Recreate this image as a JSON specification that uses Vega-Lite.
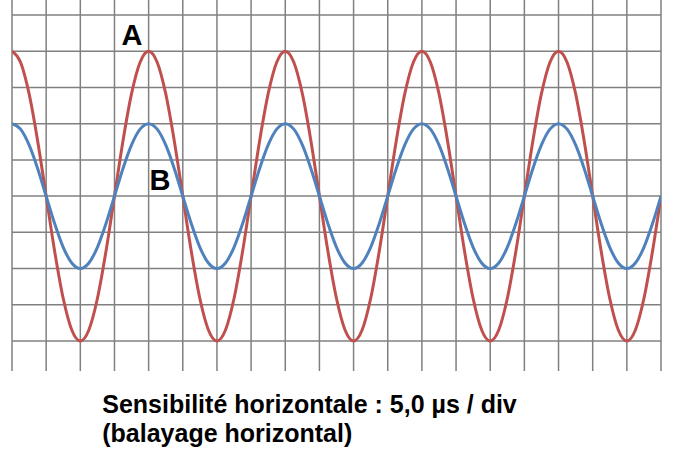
{
  "$schema": "https://vega.github.io/schema/vega-lite/v6.json",
  "width": 649,
  "height": 371,
  "autosize": {"type": "none"},
  "padding": {"left": 12, "top": 0, "right": 18, "bottom": 96},
  "background": "white",
  "config": {"view": {"stroke": null}},
  "title": {
    "text": ["Sensibilité horizontale : 5,0 µs / div", "\u2005(balayage horizontal)"],
    "orient": "bottom",
    "anchor": "start",
    "dx": 91,
    "offset": 21,
    "font": "Liberation Sans",
    "fontSize": 25,
    "fontWeight": "bold",
    "color": "black",
    "lineHeight": 29
  },
  "datasets": {
    "vgrid": [{"t":0},{"t":1},{"t":2},{"t":3},{"t":4},{"t":5},{"t":6},{"t":7},{"t":8},{"t":9},{"t":10},{"t":11},{"t":12},{"t":13},{"t":14},{"t":15},{"t":16},{"t":17},{"t":18},{"t":19}],
    "hgrid": [{"v":-4},{"v":-3},{"v":-2},{"v":-1},{"v":0},{"v":1},{"v":2},{"v":3},{"v":4},{"v":5}],
    "waves": [
      {"t":0,"A":4,"B":2},{"t":0.25,"A":3.696,"B":1.848},{"t":0.5,"A":2.828,"B":1.414},{"t":0.75,"A":1.531,"B":0.765},
      {"t":1,"A":0,"B":0},{"t":1.25,"A":-1.531,"B":-0.765},{"t":1.5,"A":-2.828,"B":-1.414},{"t":1.75,"A":-3.696,"B":-1.848},
      {"t":2,"A":-4,"B":-2},{"t":2.25,"A":-3.696,"B":-1.848},{"t":2.5,"A":-2.828,"B":-1.414},{"t":2.75,"A":-1.531,"B":-0.765},
      {"t":3,"A":0,"B":0},{"t":3.25,"A":1.531,"B":0.765},{"t":3.5,"A":2.828,"B":1.414},{"t":3.75,"A":3.696,"B":1.848},
      {"t":4,"A":4,"B":2},{"t":4.25,"A":3.696,"B":1.848},{"t":4.5,"A":2.828,"B":1.414},{"t":4.75,"A":1.531,"B":0.765},
      {"t":5,"A":0,"B":0},{"t":5.25,"A":-1.531,"B":-0.765},{"t":5.5,"A":-2.828,"B":-1.414},{"t":5.75,"A":-3.696,"B":-1.848},
      {"t":6,"A":-4,"B":-2},{"t":6.25,"A":-3.696,"B":-1.848},{"t":6.5,"A":-2.828,"B":-1.414},{"t":6.75,"A":-1.531,"B":-0.765},
      {"t":7,"A":0,"B":0},{"t":7.25,"A":1.531,"B":0.765},{"t":7.5,"A":2.828,"B":1.414},{"t":7.75,"A":3.696,"B":1.848},
      {"t":8,"A":4,"B":2},{"t":8.25,"A":3.696,"B":1.848},{"t":8.5,"A":2.828,"B":1.414},{"t":8.75,"A":1.531,"B":0.765},
      {"t":9,"A":0,"B":0},{"t":9.25,"A":-1.531,"B":-0.765},{"t":9.5,"A":-2.828,"B":-1.414},{"t":9.75,"A":-3.696,"B":-1.848},
      {"t":10,"A":-4,"B":-2},{"t":10.25,"A":-3.696,"B":-1.848},{"t":10.5,"A":-2.828,"B":-1.414},{"t":10.75,"A":-1.531,"B":-0.765},
      {"t":11,"A":0,"B":0},{"t":11.25,"A":1.531,"B":0.765},{"t":11.5,"A":2.828,"B":1.414},{"t":11.75,"A":3.696,"B":1.848},
      {"t":12,"A":4,"B":2},{"t":12.25,"A":3.696,"B":1.848},{"t":12.5,"A":2.828,"B":1.414},{"t":12.75,"A":1.531,"B":0.765},
      {"t":13,"A":0,"B":0},{"t":13.25,"A":-1.531,"B":-0.765},{"t":13.5,"A":-2.828,"B":-1.414},{"t":13.75,"A":-3.696,"B":-1.848},
      {"t":14,"A":-4,"B":-2},{"t":14.25,"A":-3.696,"B":-1.848},{"t":14.5,"A":-2.828,"B":-1.414},{"t":14.75,"A":-1.531,"B":-0.765},
      {"t":15,"A":0,"B":0},{"t":15.25,"A":1.531,"B":0.765},{"t":15.5,"A":2.828,"B":1.414},{"t":15.75,"A":3.696,"B":1.848},
      {"t":16,"A":4,"B":2},{"t":16.25,"A":3.696,"B":1.848},{"t":16.5,"A":2.828,"B":1.414},{"t":16.75,"A":1.531,"B":0.765},
      {"t":17,"A":0,"B":0},{"t":17.25,"A":-1.531,"B":-0.765},{"t":17.5,"A":-2.828,"B":-1.414},{"t":17.75,"A":-3.696,"B":-1.848},
      {"t":18,"A":-4,"B":-2},{"t":18.25,"A":-3.696,"B":-1.848},{"t":18.5,"A":-2.828,"B":-1.414},{"t":18.75,"A":-1.531,"B":-0.765},
      {"t":19,"A":0,"B":0}
    ],
    "labels": [
      {"t":3.51,"v":4.42,"name":"A"},
      {"t":4.33,"v":0.41,"name":"B"}
    ]
  },
  "layer": [
    {
      "data": {"name": "vgrid"},
      "mark": {"type": "rule", "color": "#808080", "strokeWidth": 1.5},
      "encoding": {
        "x": {
          "field": "t", "type": "quantitative",
          "scale": {"domain": [0, 19], "nice": false, "zero": false},
          "axis": null
        }
      }
    },
    {
      "data": {"name": "hgrid"},
      "mark": {"type": "rule", "color": "#808080", "strokeWidth": 1.5},
      "encoding": {
        "y": {
          "field": "v", "type": "quantitative",
          "scale": {"domain": [-4.828, 5.414], "nice": false, "zero": false},
          "axis": null
        }
      }
    },
    {
      "data": {"name": "waves"},
      "transform": [{"fold": ["A", "B"], "as": ["series", "v"]}],
      "mark": {"type": "line", "interpolate": "monotone", "strokeWidth": 3, "clip": true},
      "encoding": {
        "x": {"field": "t", "type": "quantitative", "axis": null},
        "y": {"field": "v", "type": "quantitative", "axis": null},
        "color": {
          "field": "series", "type": "nominal",
          "scale": {"domain": ["A", "B"], "range": ["#C0504D", "#4F81BD"]},
          "legend": null
        }
      }
    },
    {
      "data": {"name": "labels"},
      "mark": {"type": "text", "font": "Liberation Sans", "fontSize": 29, "fontWeight": "bold", "align": "center", "baseline": "middle", "color": "black"},
      "encoding": {
        "x": {"field": "t", "type": "quantitative", "axis": null},
        "y": {"field": "v", "type": "quantitative", "axis": null},
        "text": {"field": "name"}
      }
    }
  ]
}
